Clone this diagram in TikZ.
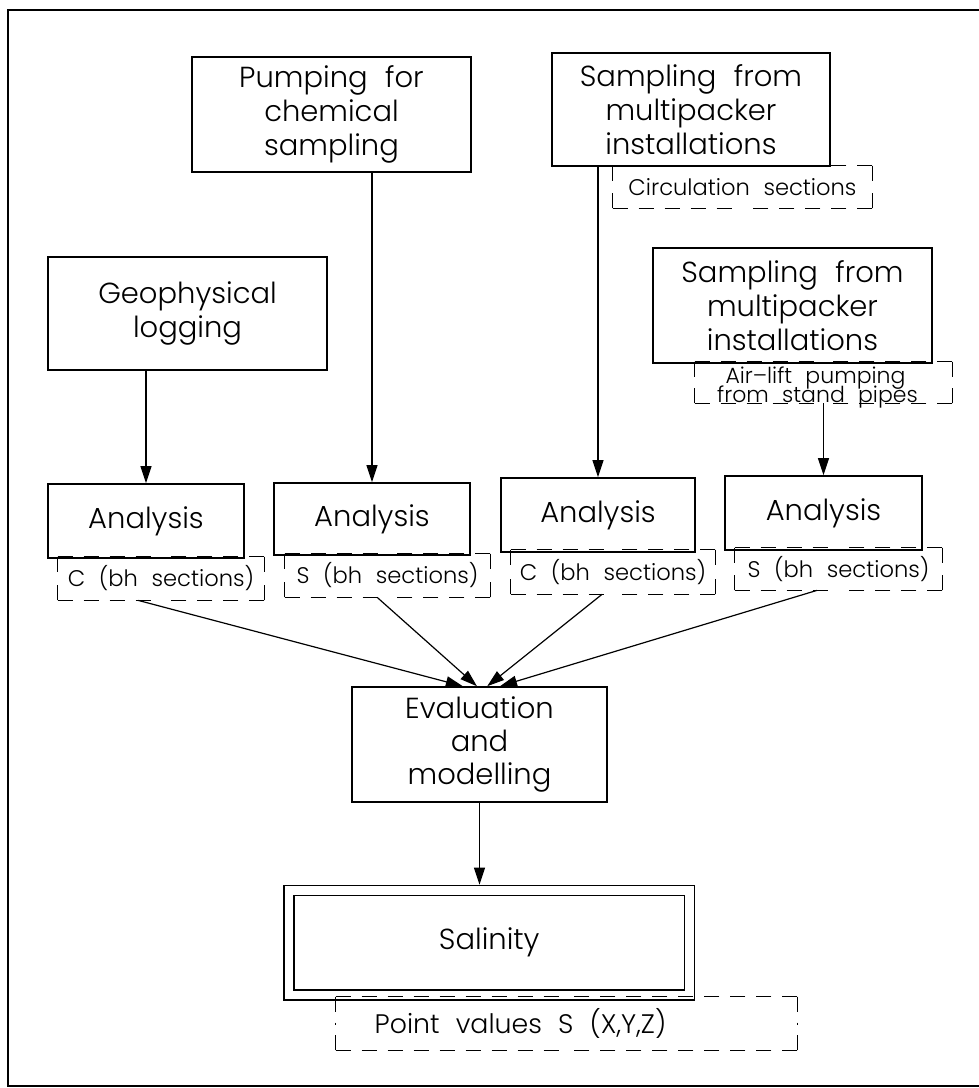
\documentclass[tikz,border=0pt]{standalone}
\usepackage{fontspec}
\IfFontExistsTF{Poppins Light}
  {\setmainfont{Poppins Light}[WordSpace=2.2]}
  {\setmainfont{Poppins}[WordSpace=2.2]}
\usetikzlibrary{arrows.meta,calc}

\newcommand\bxfont{\fontsize{14.5}{17}\selectfont}
\newcommand\lbfont{\fontsize{11.3}{13}\selectfont}
\newcommand\smfont{\fontsize{11.3}{10.3}\selectfont}
\newcommand\tnfont{\fontsize{11}{10}\selectfont}

% dashed frame: every half side starts at its corner, so all corners get a dash
\newcommand\dframe[1]{%
  \draw[dashln] (#1.north west) -- (#1.north);
  \draw[dashln] (#1.north east) -- (#1.north);
  \draw[dashln] (#1.south west) -- (#1.south);
  \draw[dashln] (#1.south east) -- (#1.south);
  \draw[dashln] (#1.north west) -- (#1.west);
  \draw[dashln] (#1.south west) -- (#1.west);
  \draw[dashln] (#1.north east) -- (#1.east);
  \draw[dashln] (#1.south east) -- (#1.east);}

\tikzset{
  box/.style={draw, line width=0.8pt, inner sep=0pt, align=center, font=\bxfont},
  tag/.style={inner sep=0pt, font=\lbfont},
  dashln/.style={line width=0.6pt, dash pattern=on 7.5pt off 5.5pt},
  arr/.style={line width=0.6pt, -{Triangle[length=8.5pt,width=5.5pt]}},
  frameln/.style={line width=1pt}
}

\begin{document}
\begin{tikzpicture}[x=0.5pt,y=-0.5pt]
\useasboundingbox (0,0) rectangle (979,1088);

% outer frame
\draw[frameln] (979,10) -- (8,10) -- (8,1086) -- (979,1086);

% sources
\node[box, minimum width=139.5pt, minimum height=57.5pt] (pump) at (331.5,114.5)
  {Pumping for\\chemical\\sampling};
\node[box, minimum width=139pt, minimum height=56.5pt] (samp1) at (691,109.5)
  {Sampling from\\multipacker\\installations};
\node[tag, font=\smfont, minimum width=129.5pt, minimum height=21pt] (circ) at (742.5,187)
  {Circulation sections};
\dframe{circ}

\node[box, minimum width=139.5pt, minimum height=57.5pt] (samp2) at (792.5,305.5)
  {Sampling from\\multipacker\\installations};
\node[box, minimum width=139.5pt, minimum height=56.5pt] (geo) at (187.5,313.5)
  {Geophysical\\logging};

% the air-lift note: dashed frame, two lines set on its lower edge
\node[tag, minimum width=128.5pt, minimum height=20.5pt] (air) at (823.5,382.5) {};
\dframe{air}
\node[inner sep=0pt, anchor=base, font=\tnfont] (airA) at ($(air.south)+(-8,-20)$) {Air--lift pumping};
\node[inner sep=0pt, anchor=base, font=\tnfont] (airB) at ($(air.south)+(-6,-0.5)$) {from stand pipes};

% analyses
\node[box, minimum width=98pt, minimum height=37pt] (an1) at (146,521) {Analysis};
\node[box, minimum width=98pt, minimum height=36pt] (an2) at (372,519) {Analysis};
\node[box, minimum width=97pt, minimum height=37pt] (an3) at (598,515) {Analysis};
\node[box, minimum width=98.5pt, minimum height=37pt] (an4) at (823.5,513) {Analysis};

\node[tag, minimum width=103pt, minimum height=21.5pt] (lab1) at (161,578.5) {C (bh sections)};
\node[tag, minimum width=102.5pt, minimum height=21.5pt] (lab2) at (387.5,575.5) {S (bh sections)};
\node[tag, minimum width=102pt, minimum height=22pt] (lab3) at (613,572) {C (bh sections)};
\node[tag, minimum width=103.5pt, minimum height=21pt] (lab4) at (838.5,569) {S (bh sections)};
\dframe{lab1}
\dframe{lab2}
\dframe{lab3}
\dframe{lab4}

% evaluation and result
\node[box, minimum width=127.5pt, minimum height=57.5pt, font={\fontsize{14.5}{16.5}\selectfont}] (eval) at (479.5,744.5)
  {Evaluation\\and\\modelling};
\node[box, double, double distance=4.2pt, minimum width=200.25pt, minimum height=52.25pt] (sal) at (489.25,942.75)
  {Salinity};
\node[tag, font={\fontsize{13.4}{13}\selectfont}, minimum width=230.5pt, minimum height=26.5pt] (pt) at (566.5,1023.5)
  {Point values S (X,Y,Z)\hspace*{46pt}};
\dframe{pt}

% connectors
\draw[arr] (geo.south -| an1.north) -- (an1.north);
\draw[arr] (pump.south -| an2.north) -- (an2.north);
\draw[arr] (samp1.south -| an3.north) -- (an3.north);
\draw[arr] (air.south) -- (an4.north);

\draw[arr] ($(lab1.south west)!0.39!(lab1.south east)$) -- ($(eval.north west)!0.435!(eval.north east)$);
\draw[arr] ($(lab2.south west)!0.45!(lab2.south east)$) -- ($(eval.north west)!0.49!(eval.north east)$);
\draw[arr] ($(lab3.south west)!0.446!(lab3.south east)$) -- ($(eval.north west)!0.53!(eval.north east)$);
\draw[arr] ($(lab4.south west)!0.396!(lab4.south east)$) -- ($(eval.north west)!0.58!(eval.north east)$);

\draw[arr, shorten >=2.5pt] (eval.south) -- (eval.south |- sal.north);
\end{tikzpicture}
\end{document}
